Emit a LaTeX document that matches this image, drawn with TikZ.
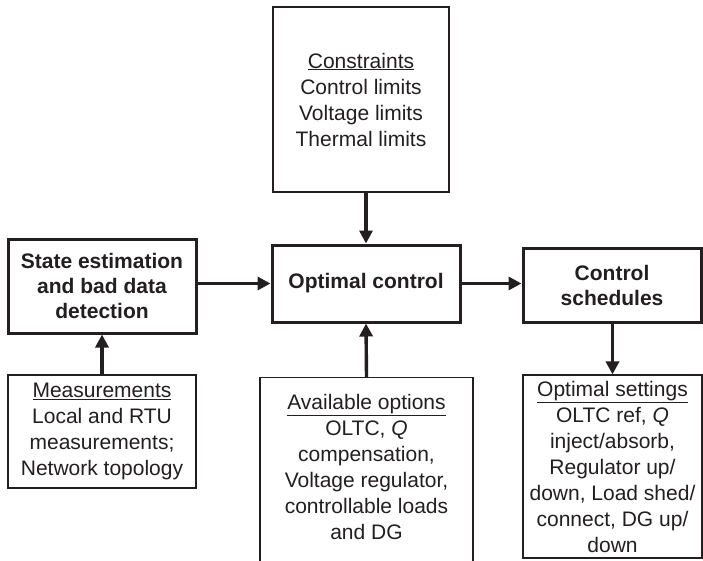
\documentclass[tikz,border=0pt]{standalone}
\usepackage{fontspec}
\setmainfont{Liberation Sans}
\usetikzlibrary{arrows.meta}
\definecolor{ink}{HTML}{231F20}
\tikzset{
  thickbox/.style={draw=ink, line width=3pt, fill=white, align=center, inner sep=0pt, font=\bfseries\fontsize{21}{25}\selectfont, text=ink},
  thinbox/.style={draw=ink, line width=1.2pt, fill=white, align=center, inner sep=0pt, font=\fontsize{21}{26}\selectfont, text=ink},
  plaintext/.style={align=center, inner sep=0pt, font=\fontsize{21}{26}\selectfont, text=ink},
  flow/.style={draw=ink, line width=3.4pt, -{Triangle[length=13pt,width=13pt]}},
}
\begin{document}
\begin{tikzpicture}[x=1pt,y=-1pt]
\clip (0,0) rectangle (703,560);
\fill[white] (0,0) rectangle (703,560);
\node[thickbox, minimum width=188pt, minimum height=94pt] (state) at (102,286) {State estimation\\and bad data\\detection};
\node[thickbox, minimum width=188pt, minimum height=77pt] (opt) at (366,283.5) {Optimal control};
\node[thickbox, minimum width=178pt, minimum height=74pt] (sched) at (612,285) {Control\\schedules};
\node[thinbox, minimum width=176pt, minimum height=185pt] (cons) at (361,99.5) {\underline{Constraints}\\Control limits\\Voltage limits\\Thermal limits};
\node[thinbox, minimum width=188pt, minimum height=113pt] (meas) at (102,431.5) {\underline{Measurements}\\Local and RTU\\measurements;\\Network topology};
\node[thinbox, minimum width=213pt, minimum height=200pt, anchor=north] (avail) at (366.5,377) {};
\node[plaintext, anchor=north] (availtext) at (366.5,394) {\underline{Available options}\\OLTC, \textit{Q}\\compensation,\\Voltage regulator,\\controllable loads\\and DG};
\node[thinbox, minimum width=179pt, minimum height=183pt] (sett) at (612.5,466.5) {\underline{Optimal settings}\\OLTC ref, \textit{Q}\\inject/absorb,\\Regulator up/\\down, Load shed/\\connect, DG up/\\down};
\draw[flow] (state.east |- opt.west) -- (opt.west);
\draw[flow] (opt.east) -- (opt.east -| sched.west);
\draw[flow] (cons.south -| opt.north) -- (opt.north);
\draw[flow] (avail.north) -- (opt.south);
\draw[flow] (meas.north) -- (state.south);
\draw[flow] (sched.south -| sett.north) -- (sett.north);
\end{tikzpicture}
\end{document}
